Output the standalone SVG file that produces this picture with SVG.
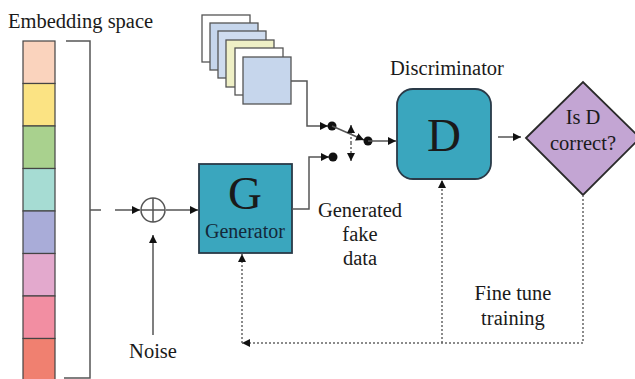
<svg xmlns="http://www.w3.org/2000/svg" width="635" height="379" viewBox="0 0 635 379">
<defs>
<style>
text{font-family:"Liberation Serif","Times New Roman",serif;font-size:20.5px;fill:#1a1a1a}
text.big{font-size:47px}
text.gen{fill:#14283a;font-size:20px}
.ln{fill:none;stroke:#555;stroke-width:1.5}
.dt{fill:none;stroke:#666;stroke-width:1.5;stroke-dasharray:2,2}
.cell{stroke:#444;stroke-width:1.2}
.sq{stroke:#555;stroke-width:1.3}
.teal{fill:#3aa6be;stroke:#2a3a48;stroke-width:1.8}
.dot{fill:#111}
</style>
<marker id="ah" markerUnits="userSpaceOnUse" markerWidth="8" markerHeight="8" refX="8" refY="4" orient="auto">
<path d="M0,0 L8,4 L0,8 z" fill="#111"/>
</marker>
</defs>
<rect width="635" height="379" fill="#fff"/>

<g id="embedding">
<text x="8" y="28">Embedding space</text>
<rect class="cell" x="23" y="41" width="32" height="42.5" fill="#fad3bd"/>
<rect class="cell" x="23" y="83.5" width="32" height="42.5" fill="#fbe383"/>
<rect class="cell" x="23" y="126" width="32" height="42.5" fill="#a9d18e"/>
<rect class="cell" x="23" y="168.5" width="32" height="42.5" fill="#a6dcd3"/>
<rect class="cell" x="23" y="211" width="32" height="42.5" fill="#a9acd8"/>
<rect class="cell" x="23" y="253.5" width="32" height="42.5" fill="#e3a9cd"/>
<rect class="cell" x="23" y="296" width="32" height="42.5" fill="#f28ea2"/>
<rect class="cell" x="23" y="338.5" width="32" height="42.5" fill="#f08070"/>
<path class="ln" d="M66,41 H90 V378 H64"/>
</g>

<g id="sum">
<circle cx="153" cy="210" r="12" fill="#fff" stroke="#555" stroke-width="1.5"/>
<path class="ln" d="M141,210 H165 M153,198 V222"/>
</g>

<g id="noise">
<text x="153" y="358" text-anchor="middle">Noise</text>
</g>

<g id="data-stack">
<rect class="sq" x="202" y="15" width="48" height="47" fill="#fff"/>
<rect class="sq" x="210" y="23" width="48" height="47" fill="#c6d6ec"/>
<rect class="sq" x="218" y="31" width="48" height="47" fill="#cfdcef"/>
<rect class="sq" x="226" y="40" width="48" height="47" fill="#eff0c6"/>
<rect class="sq" x="235" y="48" width="48" height="47" fill="#fff"/>
<rect class="sq" x="243" y="57" width="48" height="47" fill="#c6d6ec"/>
</g>

<g id="generator">
<rect class="teal" x="199" y="164" width="93" height="89"/>
<text class="big" x="245" y="209" text-anchor="middle">G</text>
<text class="gen" x="245" y="238" text-anchor="middle">Generator</text>
</g>

<g id="generated-label">
<text x="360" y="217" text-anchor="middle">Generated</text>
<text x="360" y="241" text-anchor="middle">fake</text>
<text x="360" y="265" text-anchor="middle">data</text>
</g>

<g id="discriminator">
<text x="447" y="75" text-anchor="middle">Discriminator</text>
<rect class="teal" x="397" y="89" width="94" height="90" rx="16"/>
<text class="big" x="444" y="151" text-anchor="middle">D</text>
</g>

<g id="decision">
<polygon points="526,138 583,82 640,138 583,195" fill="#c3a5d3" stroke="#2a2a2a" stroke-width="1.8"/>
<text x="583" y="124" text-anchor="middle">Is D</text>
<text x="583" y="150" text-anchor="middle">correct?</text>
</g>

<g id="finetune-label">
<text x="513" y="300" text-anchor="middle">Fine tune</text>
<text x="513" y="325" text-anchor="middle">training</text>
</g>

<g id="connectors">
<path class="ln" d="M90,210 H101"/>
<path class="ln" d="M115,210 H140" marker-end="url(#ah)"/>
<path class="ln" d="M166,210 H198" marker-end="url(#ah)"/>
<path class="ln" d="M153,335 V235" marker-end="url(#ah)"/>
<path class="ln" d="M291,81 H307 V126 H328" marker-end="url(#ah)"/>
<path class="ln" d="M292,209 H309 V157 H329" marker-end="url(#ah)"/>
<circle class="dot" cx="332" cy="126" r="4.5"/>
<circle class="dot" cx="333" cy="157" r="4.5"/>
<path class="ln" d="M332,126 L364,140" marker-end="url(#ah)"/>
<circle class="dot" cx="368" cy="141" r="4.5"/>
<path class="ln" d="M368,141 H396" marker-end="url(#ah)"/>
<path class="dt" d="M351,143 V125" marker-end="url(#ah)"/>
<path class="dt" d="M351,143 V161" marker-end="url(#ah)"/>
<path class="ln" d="M498,137 H521" marker-end="url(#ah)"/>
<path class="dt" d="M583,195 V343 H242" marker-end="url(#ah)"/>
<path class="dt" d="M242,343 V254" marker-end="url(#ah)"/>
<path class="dt" d="M442,343 V180" marker-end="url(#ah)"/>
</g>
</svg>
